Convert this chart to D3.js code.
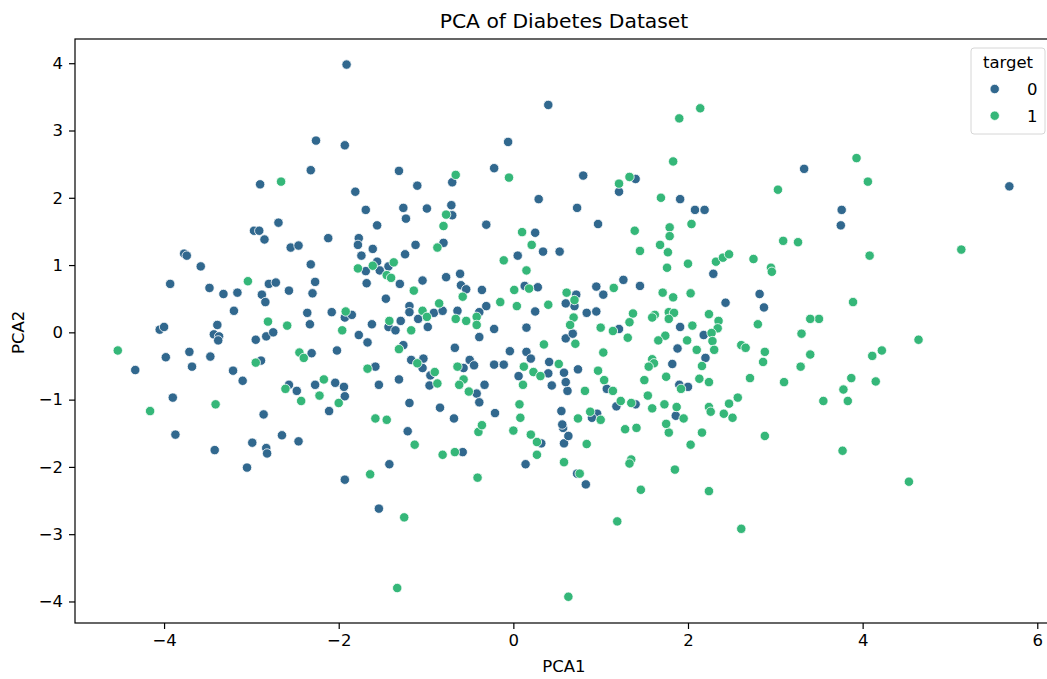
<!DOCTYPE html>
<html>
<head>
<meta charset="utf-8">
<script src="https://cdn.jsdelivr.net/npm/d3@7"></script>
<style>
  body { margin: 0; background: #fff; overflow: hidden; }
  text { font-family: "DejaVu Sans", sans-serif; fill: #000; }
</style>
</head>
<body>
<svg width="1047" height="679"></svg>
<script>
/* global d3 */
// hue levels and palette (seaborn viridis, 2 levels)
let categories = ['0', '1']
let colors = ['#31688e', '#35b779']

// [PCA1, PCA2] for target = 0
let target0 = [
  [-2.26, 2.85], [-2.32, 2.41], [-2.90, 2.20], [-2.69, 1.63], [-2.97, 1.51], [-2.91, 1.51], [-2.85, 1.38],
  [-1.91, 3.98], [0.40, 3.38], [-1.93, 2.78], [-0.06, 2.83], [-1.31, 2.40], [-0.22, 2.44], [-0.70, 2.23],
  [-1.10, 2.18], [-1.81, 2.09], [0.29, 1.98], [-1.69, 1.82], [-1.26, 1.85], [-0.99, 1.84], [-0.71, 1.89],
  [-0.70, 1.74], [-1.23, 1.69], [-1.56, 1.59], [-0.31, 1.60], [0.25, 1.48], [-2.12, 1.40], [-1.77, 1.40],
  [3.33, 2.43], [0.80, 2.33], [1.40, 2.28], [1.21, 2.09], [1.91, 1.98], [0.73, 1.85], [2.08, 1.82],
  [2.19, 1.82], [0.97, 1.61], [5.68, 2.17], [3.76, 1.82], [3.75, 1.59],
  [-3.77, 1.17], [-3.74, 1.14], [-2.55, 1.26], [-2.46, 1.29], [-3.58, 0.98], [-2.32, 1.01], [-3.93, 0.72],
  [-2.80, 0.72], [-2.72, 0.74], [-2.27, 0.75], [-3.48, 0.66], [-3.32, 0.57], [-3.16, 0.59], [-2.88, 0.56],
  [-2.84, 0.45], [-2.57, 0.62], [-2.30, 0.58], [-3.20, 0.32], [-2.36, 0.29], [-2.33, 0.12], [-4.05, 0.04],
  [-4.00, 0.08], [-3.39, 0.11], [-3.43, -0.03], [-3.37, -0.06], [-3.38, -0.12], [-2.95, -0.11], [-2.83, -0.06],
  [-2.75, 0.00], [-3.71, -0.29], [-3.98, -0.37], [-3.47, -0.36], [-2.31, -0.31], [-3.68, -0.51], [-4.33, -0.56],
  [-2.89, -0.42], [-3.21, -0.57], [-3.10, -0.72], [-2.57, -0.78], [-2.48, -0.87], [-2.27, -0.78], [-3.90, -0.97],
  [-2.86, -1.22], [-3.87, -1.52], [-3.42, -1.75], [-2.99, -1.64], [-2.83, -1.72], [-2.82, -1.80], [-2.65, -1.53],
  [-2.46, -1.62], [-3.05, -2.01],
  [-1.21, -1.47], [0.32, -1.65], [0.57, -1.42], [0.58, -1.65], [0.63, -1.54], [-0.58, -1.78], [-1.42, -1.96],
  [0.14, -1.96], [-1.93, -2.19], [-1.54, -2.62], [0.73, -2.10], [0.83, -2.26],
  [-1.78, 1.30], [-1.61, 1.24], [-1.74, 1.14], [-1.12, 1.30], [-0.80, 1.33], [-1.24, 1.16], [0.34, 1.20],
  [0.53, 1.20], [0.05, 1.14], [-1.56, 1.05], [-1.43, 0.98], [-1.69, 0.91], [-1.53, 0.92], [-1.68, 0.73],
  [-1.30, 0.72], [-1.04, 0.77], [-0.77, 0.82], [-0.61, 0.87], [-0.60, 0.70], [-0.54, 0.64], [0.13, 0.69],
  [0.28, 0.67], [-0.36, 0.63], [-1.46, 0.50], [-0.31, 0.39], [-1.19, 0.39], [-1.19, 0.30], [-2.08, 0.30],
  [-1.93, 0.22], [-1.85, 0.26], [-0.91, 0.29], [-0.81, 0.32], [-1.09, 0.20], [-0.64, 0.32], [-0.39, 0.30],
  [0.25, 0.31], [-1.29, 0.17], [-1.43, 0.08], [-1.35, 0.03], [-1.62, 0.12], [-0.98, 0.08], [-0.22, 0.05],
  [0.15, 0.07], [-0.39, -0.07], [0.60, -0.09], [-1.77, -0.04], [-1.67, -0.15], [-1.26, -0.19], [-2.02, -0.27],
  [-0.67, -0.23], [-0.04, -0.28], [0.15, -0.29], [0.20, -0.39], [-1.17, -0.41], [-1.03, -0.39], [-1.04, -0.53],
  [-0.50, -0.41], [-0.45, -0.49], [-0.57, -0.53], [-0.22, -0.48], [-0.11, -0.48], [0.41, -0.44], [0.40, -0.61],
  [0.06, -0.65], [0.58, -0.60], [-1.58, -0.51], [-0.95, -0.64], [-1.31, -0.70], [-0.96, -0.79], [-1.54, -0.78],
  [0.44, -0.79], [-0.33, -0.78], [-0.42, -0.91], [-0.39, -1.04], [-2.04, -0.75], [-1.94, -0.81], [-1.93, -0.95],
  [-2.11, -1.17], [-1.19, -1.05], [-0.84, -1.12], [-0.21, -1.20], [0.55, -1.17], [-0.68, -1.28], [0.56, -1.37],
  [2.29, 0.87], [1.26, 0.78], [1.45, 0.69], [0.95, 0.68], [1.03, 0.56], [2.82, 0.57], [2.43, 0.44],
  [2.87, 0.37], [0.72, 0.56], [0.70, 0.39], [0.60, 0.43], [0.84, 0.29], [0.95, 0.31], [1.21, 0.05],
  [1.91, 0.08], [2.18, -0.04], [0.68, -0.02], [1.88, -0.24], [2.20, -0.38], [1.82, -0.47], [0.74, -0.55],
  [1.90, -0.78], [2.00, -0.81], [1.07, -0.84], [0.62, -0.87], [0.60, -0.74], [1.40, -1.07], [1.18, -1.10],
  [0.96, -1.21], [0.90, -1.27], [1.86, -1.24]
]

// [PCA1, PCA2] for target = 1
let target1 = [
  [-2.66, 2.24], [-0.66, 2.34], [-0.05, 2.30], [-0.77, 1.75], [-0.80, 1.58], [0.10, 1.49], [2.14, 3.33],
  [1.90, 3.18], [1.83, 2.54], [1.33, 2.31], [1.21, 2.21], [3.03, 2.12], [1.69, 2.00], [2.04, 1.61],
  [1.39, 1.51], [1.79, 1.56], [1.79, 1.43], [3.09, 1.36], [3.26, 1.34], [3.93, 2.59], [4.06, 2.24],
  [-3.04, 0.76], [-2.81, 0.16], [-2.59, 0.10], [-4.53, -0.27], [-2.45, -0.30], [-2.40, -0.38], [-2.95, -0.45],
  [-2.61, -0.84], [-2.22, -0.94], [-2.17, -0.70], [-2.43, -1.02], [-4.16, -1.17], [-3.41, -1.07],
  [-0.40, -1.48], [0.00, -1.46], [0.20, -1.52], [0.27, -1.63], [-1.13, -1.67], [-0.81, -1.82], [-0.67, -1.78],
  [0.27, -1.82], [0.58, -1.93], [-1.64, -2.11], [-0.41, -2.16], [-1.25, -2.75], [-1.33, -3.80], [0.63, -3.93],
  [1.28, -1.44], [1.41, -1.42], [0.84, -1.66], [1.78, -1.49], [2.16, -1.49], [2.88, -1.54], [2.03, -1.67],
  [1.35, -1.89], [1.33, -1.95], [0.76, -2.10], [1.85, -2.04], [1.46, -2.34], [2.24, -2.36], [1.19, -2.81],
  [2.61, -2.92], [3.77, -1.76], [4.53, -2.22],
  [5.13, 1.23], [4.08, 1.14], [3.89, 0.45], [3.50, 0.20], [4.64, -0.11], [4.11, -0.35], [4.22, -0.27],
  [3.87, -0.68], [4.15, -0.73], [3.78, -0.85], [3.55, -1.02], [3.83, -1.02],
  [-0.87, 1.26], [0.21, 1.30], [-0.11, 1.07], [-1.61, 0.99], [-1.37, 1.04], [-1.78, 0.95], [-1.45, 0.85],
  [-1.40, 0.81], [0.15, 0.92], [0.18, 0.65], [0.01, 0.63], [-1.14, 0.62], [-0.58, 0.53], [0.04, 0.39],
  [-0.15, 0.45], [0.40, 0.41], [-0.85, 0.43], [-1.92, 0.31], [-1.04, 0.32], [-0.99, 0.23], [-0.42, 0.23],
  [-1.42, 0.17], [-1.17, 0.03], [-0.66, 0.20], [-0.54, 0.17], [-0.42, 0.11], [-1.96, 0.03], [-1.31, -0.25],
  [0.35, -0.18], [-1.10, -0.46], [-0.64, -0.51], [0.52, -0.47], [0.12, -0.51], [0.23, -0.59], [0.31, -0.65],
  [-1.67, -0.54], [-0.90, -0.59], [-0.57, -0.70], [-0.62, -0.78], [-0.87, -0.76], [0.11, -0.78], [-0.51, -0.88],
  [-2.00, -1.05], [0.07, -1.07], [-1.58, -1.28], [-1.45, -1.30], [0.08, -1.27], [-0.36, -1.38],
  [1.45, 1.21], [1.68, 1.30], [1.77, 1.19], [1.76, 0.96], [2.00, 1.02], [2.32, 1.05], [2.40, 1.11],
  [2.47, 1.16], [2.75, 1.09], [2.95, 0.96], [2.96, 0.90], [1.15, 0.66], [1.71, 0.59], [1.83, 0.52],
  [2.03, 0.58], [0.61, 0.59], [0.70, 0.48], [1.37, 0.28], [1.33, 0.15], [1.62, 0.26], [1.59, 0.22],
  [1.78, 0.30], [1.84, 0.29], [1.78, 0.20], [2.24, 0.27], [2.35, 0.17], [2.34, 0.06], [3.40, 0.20],
  [2.80, 0.12], [0.69, 0.22], [0.65, 0.11], [1.00, 0.07], [1.14, 0.02], [1.31, -0.08], [2.05, 0.10],
  [2.27, -0.01], [2.28, -0.13], [2.30, -0.26], [1.74, -0.05], [1.66, -0.12], [1.99, -0.12], [0.71, -0.17],
  [3.30, -0.02], [2.61, -0.19], [2.66, -0.23], [2.10, -0.26], [1.03, -0.30], [2.88, -0.29], [2.86, -0.44],
  [3.40, -0.33], [1.59, -0.40], [1.61, -0.46], [1.55, -0.51], [2.16, -0.50], [3.29, -0.51], [0.97, -0.57],
  [1.04, -0.71], [1.50, -0.71], [1.75, -0.66], [2.13, -0.69], [2.24, -0.74], [2.71, -0.68], [3.10, -0.74],
  [1.92, -0.84], [1.14, -0.87], [0.82, -0.87], [1.54, -0.94], [2.57, -0.97], [1.23, -1.02], [1.35, -1.05],
  [1.73, -1.07], [2.47, -1.06], [1.59, -1.13], [1.87, -1.11], [2.24, -1.11], [2.26, -1.18], [2.41, -1.21],
  [2.51, -1.27], [0.88, -1.18], [1.00, -1.30], [0.74, -1.28], [1.95, -1.28], [1.75, -1.36]
]

let xTicks = [-4, -2, 0, 2, 4, 6]
let yTicks = [-4, -3, -2, -1, 0, 1, 2, 3, 4]

var svg = d3.select('svg')

// the right spine sits just past the picture edge
var plotLeft = 75
var plotRight = 1053
var plotTop = 39
var plotBottom = 623
var fontSize = 16.5

var x = d3.scaleLinear().domain([-5.02, 6.18]).range([plotLeft, plotRight])
var y = d3.scaleLinear().domain([-4.32, 4.36]).range([plotBottom, plotTop])

// points in drawing order
var points = []
target0.forEach(p => points.push({ x: p[0], y: p[1], t: 0 }))
target1.forEach(p => points.push({ x: p[0], y: p[1], t: 1 }))

svg.append('g')
  .selectAll('circle')
  .data(points)
  .enter().append('circle')
    .attr('cx', d => x(d.x))
    .attr('cy', d => y(d.y))
    .attr('r', 4.7)
    .style('fill', d => colors[d.t])
    .style('stroke', '#fff')
    .style('stroke-width', 0.8)

// axes
var fmt = d3.format('d')
var xAxis = svg.append('g')
  .attr('transform', 'translate(0,' + plotBottom + ')')
  .call(d3.axisBottom(x).tickValues(xTicks).tickFormat(fmt).tickSize(6).tickPadding(5))
var yAxis = svg.append('g')
  .attr('transform', 'translate(' + plotLeft + ',0)')
  .call(d3.axisLeft(y).tickValues(yTicks).tickFormat(fmt).tickSize(6).tickPadding(6))

;[xAxis, yAxis].forEach(a => {
  a.select('.domain').remove()
  a.selectAll('line').style('stroke', '#000').style('stroke-width', 1.2)
  a.selectAll('text')
    .style('font-family', '"DejaVu Sans", sans-serif')
    .style('font-size', fontSize + 'px')
    .style('fill', '#000')
})

// frame
svg.append('rect')
  .attr('x', plotLeft)
  .attr('y', plotTop)
  .attr('width', plotRight - plotLeft)
  .attr('height', plotBottom - plotTop)
  .style('fill', 'none')
  .style('stroke', '#000')
  .style('stroke-width', 1.2)

// title and labels
svg.append('text')
  .attr('x', (plotLeft + plotRight) / 2)
  .attr('y', 28)
  .attr('text-anchor', 'middle')
  .style('font-size', '20.3px')
  .text('PCA of Diabetes Dataset')

svg.append('text')
  .attr('x', (plotLeft + plotRight) / 2)
  .attr('y', 672)
  .attr('text-anchor', 'middle')
  .style('font-size', fontSize + 'px')
  .text('PCA1')

svg.append('text')
  .attr('transform', 'translate(24,' + y(0) + ') rotate(-90)')
  .attr('text-anchor', 'middle')
  .style('font-size', fontSize + 'px')
  .text('PCA2')

// legend
var legend = svg.append('g').attr('transform', 'translate(971,48)')
legend.append('rect')
  .attr('width', 74)
  .attr('height', 86)
  .attr('rx', 3)
  .style('fill', '#fff')
  .style('fill-opacity', 0.8)
  .style('stroke', '#d6d6d6')
legend.append('text')
  .attr('x', 37)
  .attr('y', 19.5)
  .attr('text-anchor', 'middle')
  .style('font-size', fontSize + 'px')
  .text('target')
categories.forEach((c, i) => {
  var row = legend.append('g').attr('transform', 'translate(0,' + (41 + i * 26.7) + ')')
  row.append('circle')
    .attr('cx', 23.7)
    .attr('r', 4.7)
    .style('fill', colors[i])
    .style('stroke', '#fff')
    .style('stroke-width', 0.8)
  row.append('text')
    .attr('x', 56)
    .attr('y', 6)
    .style('font-size', fontSize + 'px')
    .text(c)
})
</script>
</body>
</html>
